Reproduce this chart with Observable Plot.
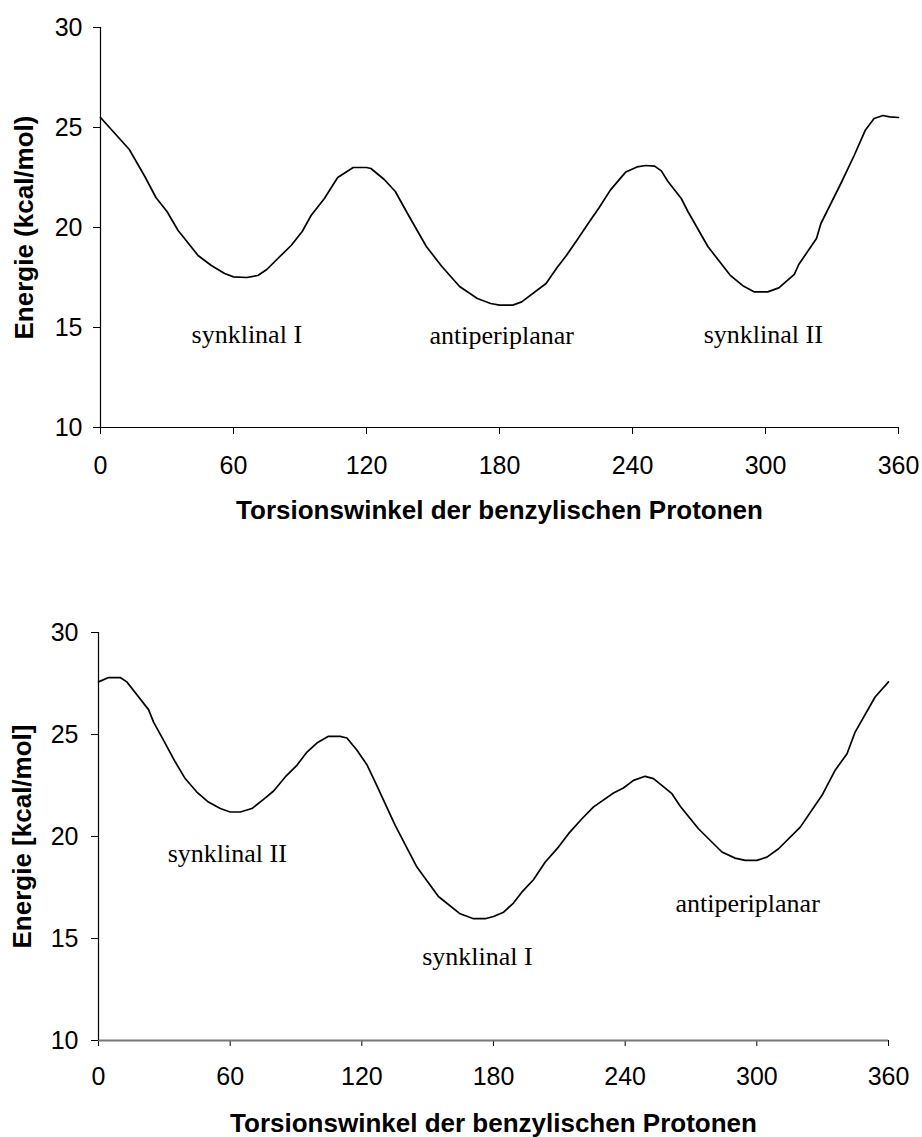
<!DOCTYPE html>
<html>
<head>
<meta charset="utf-8">
<script src="https://cdn.jsdelivr.net/npm/d3@7"></script>
<script src="https://cdn.jsdelivr.net/npm/@observablehq/plot@0.6"></script>
<style>
  html, body { margin: 0; padding: 0; background: #fff; }
  #chart { width: 922px; }
  #chart svg { display: block; }
</style>
</head>
<body>
<div id="chart"></div>
<script>
// ---- data ----
const xTicks = [0, 60, 120, 180, 240, 300, 360];
const yTicks = [10, 15, 20, 25, 30];
const xTitle = "Torsionswinkel der benzylischen Protonen";

// top panel
const topAngle  = [0, 13, 20, 25, 30, 35, 39, 44, 50, 56, 60, 66, 71, 75, 80, 86, 91, 95, 101, 107, 114, 120, 122, 128, 133, 139, 147, 154, 162, 170, 176, 180, 186, 190, 201, 206, 210, 215, 220, 225, 230, 237, 242, 246, 250, 253, 256, 262, 265, 274, 284, 290, 295, 301, 306, 313, 315, 323, 325, 334, 340, 345, 349, 353, 356, 360];
const topEnergy = [25.5, 23.9, 22.55, 21.5, 20.8, 19.85, 19.3, 18.6, 18.1, 17.7, 17.53, 17.5, 17.6, 17.9, 18.45, 19.1, 19.8, 20.6, 21.45, 22.5, 23.0, 23.0, 22.95, 22.4, 21.8, 20.6, 19.05, 18.05, 17.05, 16.45, 16.2, 16.12, 16.12, 16.28, 17.2, 18.0, 18.57, 19.37, 20.2, 21.0, 21.87, 22.78, 23.03, 23.1, 23.07, 22.83, 22.3, 21.45, 20.8, 19.05, 17.62, 17.07, 16.78, 16.78, 16.98, 17.66, 18.15, 19.45, 20.2, 22.2, 23.6, 24.86, 25.45, 25.6, 25.53, 25.5];
const topYTitle = "Energie (kcal/mol)";
const topLabelText = ["synklinal I", "antiperiplanar", "synklinal II"];
const topLabelX = [66, 181, 299];
const topLabelY = [14.65, 14.6, 14.65];

// bottom panel
const botAngle  = [0, 4.6, 9.9, 12.9, 15.9, 22.8, 25.1, 29.6, 35, 39.5, 44.8, 50.1, 55.5, 60, 64.6, 69.9, 75.2, 79.8, 85.1, 90.4, 95, 99.5, 104.8, 110.1, 113.2, 117.8, 122.3, 126.1, 135.2, 145.1, 154.9, 164.8, 170.9, 176.2, 180, 184.6, 189.1, 192.9, 198.2, 203.6, 209.6, 214.2, 220.3, 225.6, 234.7, 239.2, 243.8, 249.1, 252.9, 256.7, 261.3, 265.1, 273.4, 284.1, 290.1, 294.7, 300, 304.6, 309.9, 319.8, 329.7, 335.7, 341.1, 344.8, 353.9, 360];
const botEnergy = [27.58, 27.79, 27.79, 27.58, 27.17, 26.22, 25.61, 24.72, 23.65, 22.84, 22.18, 21.69, 21.37, 21.2, 21.2, 21.37, 21.82, 22.23, 22.92, 23.49, 24.14, 24.58, 24.91, 24.91, 24.83, 24.23, 23.52, 22.67, 20.55, 18.5, 17.06, 16.21, 15.97, 15.97, 16.08, 16.29, 16.74, 17.27, 17.88, 18.75, 19.48, 20.14, 20.87, 21.45, 22.13, 22.38, 22.75, 22.95, 22.84, 22.51, 22.1, 21.48, 20.38, 19.24, 18.94, 18.83, 18.83, 18.99, 19.4, 20.46, 22.02, 23.25, 24.06, 25.12, 26.84, 27.58];
const botYTitle = "Energie [kcal/mol]";
const botLabelText = ["synklinal II", "synklinal I", "antiperiplanar"];
const botLabelX = [58.7, 172.7, 295.8];
const botLabelY = [19.18, 14.11, 16.73];

// ---- drawing ----
const sans = "'Liberation Sans', Arial, sans-serif";
const serif = "'Liberation Serif', 'Times New Roman', serif";

function panel(cfg) {
  const curve = cfg.angle.map((a, i) => ({angle: a, energy: cfg.energy[i]}));
  const labels = cfg.labelText.map((t, i) => ({text: t, x: cfg.labelX[i], y: cfg.labelY[i]}));
  return Plot.plot({
    width: 922,
    height: cfg.height,
    marginTop: cfg.mt,
    marginBottom: cfg.mb,
    marginLeft: cfg.ml,
    marginRight: cfg.mr,
    style: {fontFamily: sans, fontSize: "25px", color: "#000", background: "#fff"},
    x: {domain: [0, 360], ticks: xTicks, tickSize: cfg.xTickSize, tickPadding: cfg.xTickPad, label: null, tickFormat: d => String(d)},
    y: {domain: [10, 30], ticks: yTicks, tickSize: 7, tickPadding: cfg.yTickPad, label: null, tickFormat: d => String(d)},
    marks: [
      Plot.ruleY([10], {stroke: cfg.xAxisStroke, strokeWidth: cfg.xAxisWidth}),
      Plot.ruleX([0], {stroke: "#000", strokeWidth: 1.2}),
      Plot.line(curve, {x: "angle", y: "energy", stroke: "#000", strokeWidth: 1.7}),
      Plot.text(labels, {x: "x", y: "y", text: "text", fontFamily: serif, fontSize: 26, fill: "#000", textAnchor: "middle", lineAnchor: "middle"}),
      Plot.text([xTitle], {frameAnchor: "bottom", dy: 83, text: d => d, fontFamily: sans, fontWeight: "bold", fontSize: 26, fill: "#000", textAnchor: "middle", lineAnchor: "middle"}),
      Plot.text([cfg.yTitle], {frameAnchor: "left", dx: -76, rotate: -90, text: d => d, fontFamily: sans, fontWeight: "bold", fontSize: 26, fill: "#000", textAnchor: "middle", lineAnchor: "middle"})
    ]
  });
}

const chart = document.getElementById("chart");
chart.appendChild(panel({
  angle: topAngle, energy: topEnergy, yTitle: topYTitle,
  labelText: topLabelText, labelX: topLabelX, labelY: topLabelY,
  height: 560, mt: 27, mb: 133, ml: 100, mr: 24,
  xTickSize: 7, xTickPad: 22, yTickPad: 11,
  xAxisStroke: "#000", xAxisWidth: 1.2
}));
chart.appendChild(panel({
  angle: botAngle, energy: botEnergy, yTitle: botYTitle,
  labelText: botLabelText, labelX: botLabelX, labelY: botLabelY,
  height: 577, mt: 72, mb: 97, ml: 98, mr: 34,
  xTickSize: 6, xTickPad: 21, yTickPad: 13,
  xAxisStroke: "#777", xAxisWidth: 2
}));
</script>
</body>
</html>
